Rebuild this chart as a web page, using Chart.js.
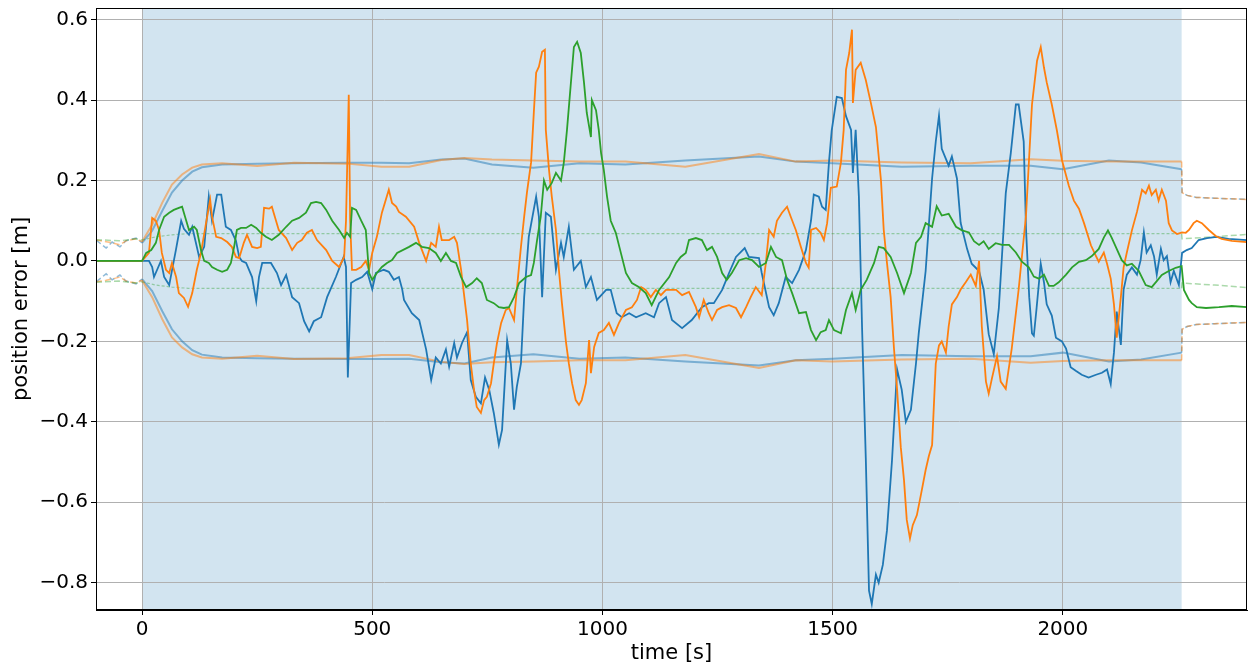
<!DOCTYPE html>
<html>
<head>
<meta charset="utf-8">
<script src="https://cdn.jsdelivr.net/npm/chart.js@4.4.0/dist/chart.umd.min.js"></script>
<style>
  html, body { margin: 0; padding: 0; background: #fff; }
  canvas { display: block; }
</style>
</head>
<body>
<canvas id="chart" width="1249" height="666"></canvas>
<script>
// time [s] where the shaded (filter running) interval ends
const regionStart = 0;
const regionEnd = 2258;

const xTicks = [0, 500, 1000, 1500, 2000];
const yTicks = [-0.8, -0.6, -0.4, -0.2, 0.0, 0.2, 0.4, 0.6];

// position error, x (blue)
const errXTime = [-100,0,15,22,26,41,48,59,69,74,85,91,102,109,124,135,145,152,163,172,182,193,204,211,217,226,239,248,254,261,280,293,302,313,326,341,352,363,373,389,402,421,438,443,447,454,465,478,489,500,508,525,536,547,558,565,569,586,602,617,628,638,649,660,667,678,684,695,706,714,725,736,745,754,764,775,782,793,801,808,814,823,830,840,856,862,869,877,888,899,910,916,927,938,953,964,975,988,1008,1018,1031,1042,1058,1073,1094,1112,1123,1138,1151,1173,1194,1216,1231,1242,1260,1275,1290,1309,1318,1340,1346,1362,1372,1383,1398,1412,1427,1442,1453,1459,1470,1477,1485,1492,1498,1509,1520,1529,1540,1544,1550,1557,1564,1572,1579,1585,1594,1600,1609,1618,1629,1640,1650,1659,1670,1681,1687,1702,1716,1724,1731,1737,1752,1759,1770,1778,1792,1802,1818,1828,1839,1850,1861,1876,1887,1898,1904,1915,1920,1927,1933,1937,1943,1952,1959,1965,1976,1985,1998,2007,2017,2028,2041,2056,2072,2085,2096,2104,2111,2117,2126,2132,2139,2150,2161,2169,2176,2182,2191,2198,2204,2213,2219,2226,2234,2241,2252,2259,2269,2280,2295,2313,2334,2360,2400];
const errX = [0,0,0,-0.015,-0.04,0,-0.04,-0.06,0,0.03,0.1,0.08,0.065,0.085,0.01,0.035,0.16,0.1,0.165,0.165,0.085,0.077,0.05,0.01,0,-0.005,-0.04,-0.1,-0.04,-0.005,-0.005,-0.03,-0.06,-0.035,-0.09,-0.105,-0.15,-0.175,-0.15,-0.14,-0.09,-0.04,0.01,-0.015,-0.29,-0.055,-0.047,-0.04,-0.027,-0.07,-0.03,-0.022,-0.027,-0.047,-0.04,-0.07,-0.097,-0.13,-0.147,-0.22,-0.296,-0.24,-0.255,-0.22,-0.263,-0.204,-0.24,-0.204,-0.177,-0.296,-0.338,-0.354,-0.29,-0.32,-0.378,-0.457,-0.42,-0.197,-0.255,-0.37,-0.313,-0.255,-0.09,0.06,0.16,0.11,-0.09,0.12,0.11,-0.022,0.045,0.01,0.085,-0.022,0,-0.065,-0.04,-0.097,-0.072,-0.072,-0.13,-0.14,-0.13,-0.14,-0.13,-0.14,-0.105,-0.09,-0.147,-0.167,-0.147,-0.115,-0.105,-0.105,-0.072,-0.03,0.01,0.032,0.01,0.007,-0.03,-0.115,-0.135,-0.105,-0.04,-0.055,-0.022,0.027,0.1,0.165,0.16,0.135,0.127,0.245,0.325,0.408,0.405,0.36,0.326,0.219,0.326,0.16,-0.17,-0.49,-0.82,-0.853,-0.78,-0.8,-0.756,-0.67,-0.495,-0.27,-0.32,-0.4,-0.37,-0.255,-0.18,-0.025,0.205,0.297,0.361,0.279,0.237,0.26,0.205,0.095,0.03,-0.007,-0.025,-0.071,-0.182,-0.232,-0.117,0.168,0.269,0.389,0.389,0.297,0.08,-0.09,-0.18,-0.186,-0.117,-0.007,-0.053,-0.108,-0.136,-0.191,-0.2,-0.218,-0.264,-0.273,-0.283,-0.29,-0.283,-0.278,-0.27,-0.306,-0.228,-0.126,-0.209,-0.071,-0.034,-0.016,-0.034,0.002,0.071,0.021,0.039,0.012,-0.034,0.03,0.002,0.012,-0.053,-0.025,-0.06,0.02,0.027,0.032,0.052,0.057,0.06,0.055,0.052];

// position error, y (orange)
const errYTime = [-100,0,15,22,30,37,43,52,59,65,74,80,91,100,109,119,128,139,148,152,161,172,185,195,204,211,221,228,239,250,258,265,276,282,291,297,313,326,337,347,358,369,380,400,413,428,439,443,449,452,456,465,476,486,493,500,510,521,536,543,552,558,573,591,602,617,628,638,645,651,667,678,684,693,699,706,714,721,727,736,743,749,758,764,771,780,790,797,808,814,823,830,836,845,851,856,862,869,875,877,884,890,899,906,912,921,927,934,942,949,955,964,971,975,982,992,1003,1014,1025,1036,1051,1064,1075,1084,1094,1105,1116,1127,1138,1160,1173,1188,1203,1210,1220,1231,1238,1249,1260,1275,1290,1301,1312,1322,1333,1346,1355,1362,1372,1379,1390,1401,1409,1420,1431,1442,1448,1453,1464,1474,1481,1488,1496,1509,1518,1524,1529,1536,1542,1544,1550,1561,1572,1583,1594,1605,1611,1618,1626,1633,1640,1648,1655,1661,1668,1674,1683,1692,1702,1709,1716,1724,1731,1737,1746,1752,1759,1770,1778,1789,1800,1811,1818,1824,1833,1839,1846,1857,1865,1876,1889,1904,1920,1933,1944,1952,1959,1965,1976,1987,1998,2013,2024,2035,2046,2061,2072,2078,2089,2096,2104,2111,2117,2126,2132,2139,2150,2161,2172,2180,2187,2193,2202,2208,2215,2224,2230,2237,2248,2259,2267,2274,2284,2291,2302,2317,2332,2345,2367,2400];
const errY = [0,0,0.02,0.107,0.1,0.077,0.02,-0.022,-0.03,-0.005,-0.04,-0.08,-0.092,-0.114,-0.08,-0.022,0.02,0.094,0.152,0.11,0.06,0.057,0.047,0.035,0.01,0.007,0.045,0.065,0.035,0.032,0.035,0.132,0.13,0.135,0.1,0.077,0.057,0.027,0.045,0.052,0.07,0.077,0.052,0.027,0,-0.015,0.01,0.1,0.413,0.1,-0.022,-0.022,-0.015,0,-0.022,0.02,0.06,0.12,0.177,0.144,0.135,0.122,0.11,0.085,0.045,0,0.045,0.035,0.085,0.052,0.052,0.06,0.045,-0.022,-0.08,-0.147,-0.255,-0.32,-0.363,-0.378,-0.346,-0.338,-0.304,-0.255,-0.204,-0.154,-0.122,-0.117,-0.147,-0.072,0.035,0.11,0.17,0.245,0.37,0.468,0.483,0.52,0.525,0.326,0.226,0.16,0.077,-0.03,-0.105,-0.204,-0.255,-0.304,-0.346,-0.358,-0.346,-0.304,-0.197,-0.279,-0.214,-0.179,-0.172,-0.154,-0.184,-0.154,-0.122,-0.115,-0.097,-0.065,-0.072,-0.09,-0.072,-0.085,-0.072,-0.072,-0.085,-0.077,-0.115,-0.14,-0.097,-0.13,-0.147,-0.122,-0.115,-0.11,-0.117,-0.14,-0.115,-0.09,-0.065,-0.085,-0.005,0.077,0.06,0.1,0.12,0.135,0.11,0.077,0.035,-0.005,-0.017,0.077,0.082,0.07,0.052,0.094,0.182,0.185,0.245,0.326,0.475,0.517,0.575,0.393,0.475,0.493,0.45,0.393,0.333,0.2,0.077,-0.005,-0.09,-0.214,-0.32,-0.463,-0.545,-0.644,-0.69,-0.657,-0.632,-0.58,-0.52,-0.485,-0.458,-0.255,-0.21,-0.2,-0.228,-0.163,-0.108,-0.09,-0.071,-0.053,-0.034,-0.062,0,-0.163,-0.3,-0.33,-0.292,-0.237,-0.3,-0.318,-0.218,-0.071,0.113,0.389,0.498,0.532,0.481,0.444,0.389,0.325,0.251,0.187,0.15,0.13,0.094,0.039,0.012,-0.002,0.021,-0.007,-0.044,-0.108,-0.191,-0.09,-0.016,0.021,0.076,0.122,0.177,0.168,0.187,0.164,0.177,0.15,0.177,0.15,0.094,0.076,0.067,0.071,0.07,0.077,0.094,0.1,0.094,0.077,0.062,0.055,0.05,0.047];

// position error, z (green)
const errZTime = [-100,0,9,20,30,37,48,59,69,80,87,96,102,113,119,128,135,145,152,163,174,185,193,200,206,215,226,237,248,258,269,282,297,313,326,341,356,367,378,389,400,413,428,439,445,452,456,465,476,486,493,500,510,521,532,543,554,580,595,608,623,638,649,660,671,682,693,704,717,727,738,749,764,775,786,797,808,819,834,845,851,858,866,873,880,890,899,910,916,923,932,938,945,953,960,966,975,977,986,992,997,1003,1010,1018,1029,1040,1051,1064,1079,1094,1107,1123,1145,1160,1170,1181,1188,1203,1216,1227,1238,1249,1260,1270,1281,1297,1312,1325,1340,1355,1366,1377,1390,1401,1412,1427,1442,1453,1464,1474,1485,1492,1503,1518,1529,1542,1550,1561,1574,1590,1600,1611,1626,1640,1655,1670,1681,1692,1702,1716,1726,1737,1752,1768,1781,1796,1807,1818,1828,1839,1854,1868,1883,1898,1911,1926,1937,1948,1959,1970,1980,1991,2007,2020,2035,2050,2063,2078,2089,2098,2106,2117,2128,2139,2150,2165,2180,2193,2204,2215,2230,2245,2258,2263,2274,2280,2291,2311,2339,2367,2400];
const errZ = [0,0,0.02,0.027,0.045,0.077,0.11,0.12,0.127,0.132,0.135,0.1,0.077,0.085,0.077,0.027,0,-0.005,-0.015,-0.022,-0.027,-0.022,-0.005,0.035,0.077,0.082,0.082,0.09,0.082,0.07,0.06,0.052,0.065,0.085,0.1,0.107,0.12,0.144,0.147,0.144,0.127,0.1,0.077,0.057,0.07,0.06,0.132,0.127,0.1,0.077,-0.03,-0.047,-0.03,-0.015,-0.005,0.002,0.02,0.035,0.045,0.035,0.032,0.02,0,0.02,0,-0.005,-0.04,-0.065,-0.055,-0.043,-0.055,-0.097,-0.105,-0.115,-0.117,-0.115,-0.09,-0.055,-0.04,-0.035,-0.005,0.052,0.11,0.2,0.177,0.194,0.219,0.2,0.243,0.326,0.45,0.532,0.545,0.517,0.443,0.368,0.308,0.4,0.375,0.326,0.269,0.226,0.16,0.1,0.07,0.02,-0.03,-0.055,-0.065,-0.08,-0.11,-0.072,-0.04,-0.005,0.01,0.02,0.052,0.057,0.052,0.027,0.035,0.01,-0.03,-0.047,-0.03,0.002,0.007,0.002,-0.015,-0.005,0.035,0.01,0.002,-0.047,-0.08,-0.13,-0.127,-0.172,-0.197,-0.177,-0.172,-0.147,-0.172,-0.18,-0.122,-0.08,-0.122,-0.072,-0.047,-0.005,0.035,0.032,0.01,-0.03,-0.08,-0.03,0.045,0.06,0.094,0.085,0.136,0.113,0.117,0.085,0.076,0.071,0.049,0.04,0.049,0.03,0.044,0.04,0.04,0.021,-0.002,-0.016,-0.039,-0.044,-0.034,-0.062,-0.062,-0.053,-0.034,-0.016,-0.002,0.002,0.012,0.03,0.058,0.076,0.058,0.03,0.002,-0.011,-0.007,-0.025,-0.06,-0.065,-0.05,-0.035,-0.025,-0.017,-0.013,-0.072,-0.097,-0.105,-0.115,-0.117,-0.115,-0.112,-0.115];

// 3-sigma bounds for x and y (drawn as +/-)
const sigmaTime = [-100,-78,-65,-48,-35,-13,0,22,44,65,87,109,130,174,250,330,445,520,580,650,700,760,850,950,1050,1180,1340,1420,1500,1650,1800,1930,2000,2100,2170,2258,2259,2270,2290,2330,2400];
const sigmaX = [0.052,0.032,0.047,0.035,0.05,0.057,0.045,0.075,0.125,0.17,0.2,0.222,0.233,0.24,0.242,0.243,0.244,0.244,0.243,0.252,0.255,0.24,0.232,0.243,0.24,0.25,0.26,0.247,0.243,0.234,0.237,0.237,0.228,0.25,0.245,0.228,0.17,0.163,0.158,0.156,0.153];
const sigmaY = [0.052,0.048,0.045,0.04,0.05,0.055,0.048,0.09,0.145,0.19,0.215,0.232,0.24,0.243,0.236,0.244,0.242,0.234,0.234,0.251,0.256,0.252,0.25,0.247,0.247,0.234,0.266,0.247,0.25,0.245,0.243,0.253,0.249,0.247,0.247,0.247,0.17,0.163,0.158,0.156,0.153];

// 3-sigma bound for z
const sigmaZTime = [-100,-50,-13,0,30,65,100,2258,2259,2330,2400];
const sigmaZ = [0.053,0.05,0.055,0.052,0.06,0.065,0.068,0.068,0.055,0.06,0.066];

const toPoints = (ts, vs, sign = 1) => ts.map((t, i) => ({ x: t, y: sign * vs[i] }));
const outside = ctx => ctx.p0.parsed.x < regionStart || ctx.p1.parsed.x > regionEnd;

const seriesLine = (pts, color) => ({
  data: pts, borderColor: color, borderWidth: 1.8, pointRadius: 0, tension: 0
});
const boundLine = (pts, color, inDash, outDash) => ({
  data: pts, borderColor: color, borderWidth: inDash.length ? 1.2 : 2, borderDash: inDash,
  pointRadius: 0, tension: 0,
  segment: {
    borderDash: ctx => outside(ctx) ? outDash : undefined,
    borderWidth: ctx => outside(ctx) ? 1.5 : undefined
  }
});

const shading = {
  id: 'shading',
  beforeDraw(chart) {
    const { ctx, chartArea, scales } = chart;
    const x0 = scales.x.getPixelForValue(regionStart);
    const x1 = scales.x.getPixelForValue(regionEnd);
    ctx.save();
    ctx.fillStyle = '#fff';
    ctx.fillRect(0, 0, chart.width, chart.height);
    ctx.fillStyle = 'rgba(31,119,180,0.2)';
    ctx.fillRect(x0, chartArea.top, x1 - x0, chartArea.bottom - chartArea.top);
    ctx.restore();
  },
  afterDraw(chart) {
    const { ctx, chartArea: a } = chart;
    ctx.save();
    ctx.strokeStyle = '#000';
    ctx.lineWidth = 1;
    ctx.strokeRect(a.left + 0.5, a.top + 0.5, a.right - a.left - 1, a.bottom - a.top - 1);
    ctx.restore();
  }
};

const font = { family: "'DejaVu Sans', sans-serif", size: 20 };
const titleFont = { family: "'DejaVu Sans', sans-serif", size: 21 };
const fmt = v => (Math.abs(v) < 1e-9 ? '0.0' : v.toFixed(1)).replace('-', '\u2212');

new Chart(document.getElementById('chart'), {
  type: 'line',
  data: {
    datasets: [
      seriesLine(toPoints(errZTime, errZ), '#2ca02c'),
      seriesLine(toPoints(errYTime, errY), '#ff7f0e'),
      seriesLine(toPoints(errXTime, errX), '#1f77b4'),
      boundLine(toPoints(sigmaZTime, sigmaZ), 'rgba(44,160,44,0.4)', [3, 2], [6, 3]),
      boundLine(toPoints(sigmaZTime, sigmaZ, -1), 'rgba(44,160,44,0.4)', [3, 2], [6, 3]),
      boundLine(toPoints(sigmaTime, sigmaY), 'rgba(255,127,14,0.5)', [], [6, 3]),
      boundLine(toPoints(sigmaTime, sigmaY, -1), 'rgba(255,127,14,0.5)', [], [6, 3]),
      boundLine(toPoints(sigmaTime, sigmaX), 'rgba(31,119,180,0.5)', [], [6, 3]),
      boundLine(toPoints(sigmaTime, sigmaX, -1), 'rgba(31,119,180,0.5)', [], [6, 3])
    ]
  },
  options: {
    responsive: false,
    animation: false,
    layout: { padding: { top: 8, right: 2, left: 0, bottom: 0 } },
    plugins: { legend: { display: false }, tooltip: { enabled: false } },
    scales: {
      x: {
        type: 'linear',
        min: -100,
        max: 2400,
        afterBuildTicks: s => { s.ticks = xTicks.map(value => ({ value })); },
        afterFit: s => { s.height = 56; s.paddingLeft = 0; s.paddingRight = 0; },
        ticks: { color: '#000', font, padding: 3, maxRotation: 0, callback: v => String(v) },
        grid: { color: '#b0b0b0', lineWidth: 1, tickColor: '#000', tickLength: 5 },
        border: { color: '#000', width: 1 },
        title: { display: true, text: 'time [s]', color: '#000', font: titleFont, padding: { top: 0, bottom: 0 } }
      },
      y: {
        min: -0.868,
        max: 0.629,
        afterBuildTicks: s => { s.ticks = yTicks.map(value => ({ value })); },
        afterFit: s => { s.width = 96; s.paddingTop = 0; s.paddingBottom = 0; },
        ticks: { color: '#000', font, padding: 3, callback: v => fmt(v) },
        grid: { color: '#b0b0b0', lineWidth: 1, tickColor: '#000', tickLength: 5 },
        border: { color: '#000', width: 1 },
        title: { display: true, text: 'position error [m]', color: '#000', font: titleFont, padding: { top: 9, bottom: 0 } }
      }
    }
  },
  plugins: [shading]
});
</script>
</body>
</html>
